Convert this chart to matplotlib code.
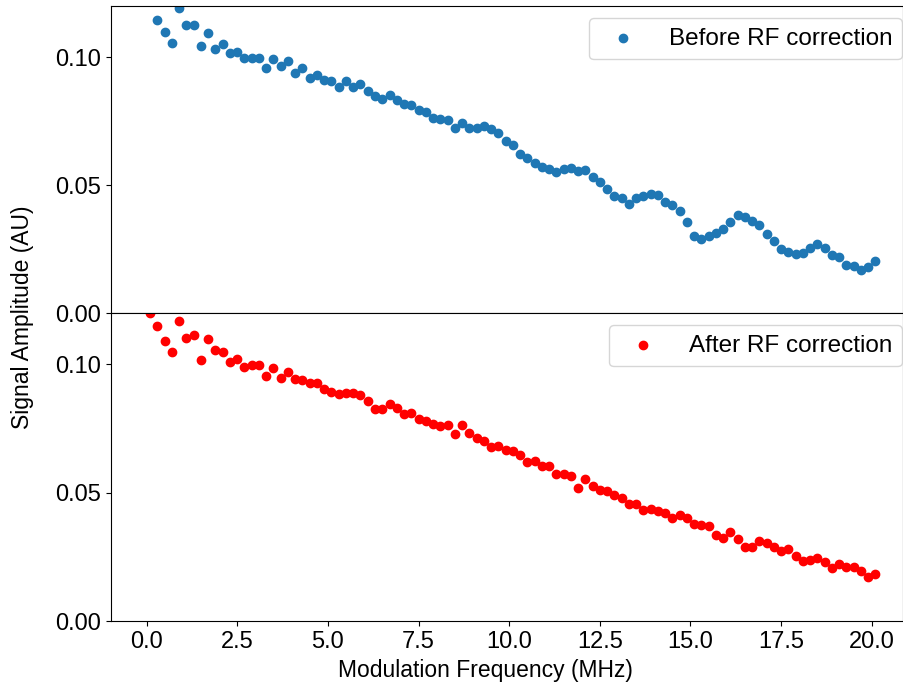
import numpy as np
import matplotlib
matplotlib.use("Agg")
import matplotlib.pyplot as plt

plt.rcParams['font.family'] = ['Liberation Sans', 'DejaVu Sans']

freq_mhz = np.round(np.arange(0.1, 20.11, 0.2), 1)

before_rf = [
    0.1280, 0.1147, 0.1097, 0.1056, 0.1192, 0.1127, 0.1124, 0.1044, 0.1093, 0.1033,
    0.1051, 0.1016, 0.1022, 0.0996, 0.0998, 0.0996, 0.0959, 0.0991, 0.0966, 0.0984,
    0.0940, 0.0957, 0.0919, 0.0932, 0.0911, 0.0908, 0.0882, 0.0908, 0.0885, 0.0896,
    0.0869, 0.0847, 0.0838, 0.0851, 0.0832, 0.0817, 0.0813, 0.0795, 0.0785, 0.0763,
    0.0759, 0.0754, 0.0724, 0.0742, 0.0724, 0.0722, 0.0729, 0.0719, 0.0702, 0.0671,
    0.0655, 0.0622, 0.0606, 0.0585, 0.0570, 0.0563, 0.0551, 0.0561, 0.0567, 0.0555,
    0.0558, 0.0532, 0.0514, 0.0486, 0.0457, 0.0449, 0.0427, 0.0448, 0.0458, 0.0467,
    0.0460, 0.0435, 0.0422, 0.0397, 0.0357, 0.0300, 0.0290, 0.0302, 0.0312, 0.0328,
    0.0354, 0.0384, 0.0375, 0.0358, 0.0345, 0.0308, 0.0282, 0.0249, 0.0240, 0.0231,
    0.0236, 0.0253, 0.0268, 0.0255, 0.0227, 0.0217, 0.0188, 0.0185, 0.0170, 0.0180,
    0.0205,
]

after_rf = [
    0.1201, 0.1151, 0.1089, 0.1047, 0.1168, 0.1102, 0.1115, 0.1017, 0.1099, 0.1055,
    0.1047, 0.1009, 0.1021, 0.0990, 0.0996, 0.0996, 0.0955, 0.0986, 0.0945, 0.0971,
    0.0941, 0.0939, 0.0929, 0.0929, 0.0905, 0.0892, 0.0884, 0.0889, 0.0887, 0.0882,
    0.0858, 0.0827, 0.0826, 0.0846, 0.0831, 0.0807, 0.0809, 0.0787, 0.0779, 0.0767,
    0.0758, 0.0763, 0.0730, 0.0764, 0.0734, 0.0712, 0.0702, 0.0677, 0.0681, 0.0668,
    0.0663, 0.0645, 0.0621, 0.0623, 0.0602, 0.0603, 0.0573, 0.0573, 0.0563, 0.0520,
    0.0554, 0.0525, 0.0511, 0.0508, 0.0491, 0.0480, 0.0456, 0.0456, 0.0434, 0.0437,
    0.0427, 0.0420, 0.0400, 0.0412, 0.0401, 0.0377, 0.0375, 0.0370, 0.0334, 0.0322,
    0.0346, 0.0318, 0.0289, 0.0288, 0.0313, 0.0305, 0.0289, 0.0271, 0.0280, 0.0255,
    0.0233, 0.0237, 0.0245, 0.0228, 0.0206, 0.0221, 0.0209, 0.0209, 0.0193, 0.0171,
    0.0185,
]

y_ticks = [0.00, 0.05, 0.10]
x_ticks = [0.0, 2.5, 5.0, 7.5, 10.0, 12.5, 15.0, 17.5, 20.0]

fig = plt.figure(figsize=(9.04, 6.90), dpi=100)
left, right = 111 / 904, 903 / 904
bot = 1 - 621 / 690
mid = 1 - 313 / 690
top = 1 - 6 / 690
ax1 = fig.add_axes([left, mid, right - left, top - mid])
ax2 = fig.add_axes([left, bot, right - left, mid - bot], sharex=ax1)

tick_fs = 17
leg_fs = 17.5
lab_fs = 16.5
ax1.scatter(freq_mhz, before_rf, color='#1f77b4', label='Before RF correction')
ax2.scatter(freq_mhz, after_rf, color='red', label='After RF correction')

for ax in (ax1, ax2):
    ax.set_ylim(0, 0.12)
    ax.set_yticks(y_ticks)
    ax.set_yticklabels([f"{v:.2f}" for v in y_ticks])
    ax.tick_params(labelsize=tick_fs)
    ax.legend(loc='upper right', fontsize=leg_fs, borderaxespad=0.0,
              bbox_to_anchor=(0.999, 0.961), handletextpad=0.9)

ax2.set_xlim(-0.98, 20.86)
ax2.set_xticks(x_ticks)
ax2.set_xticklabels([f"{v:.1f}" for v in x_ticks])
ax1.tick_params(axis='x', which='both', bottom=False, labelbottom=False)
ax2.set_xlabel('Modulation Frequency (MHz)', fontsize=lab_fs)
ax2.xaxis.set_label_coords(0.473, -0.122)
fig.text(0.025, 1 - 317 / 690, 'Signal Amplitude (AU)', rotation=90,
         va='center', ha='center', fontsize=lab_fs)

fig.savefig('out.png', dpi=100)
